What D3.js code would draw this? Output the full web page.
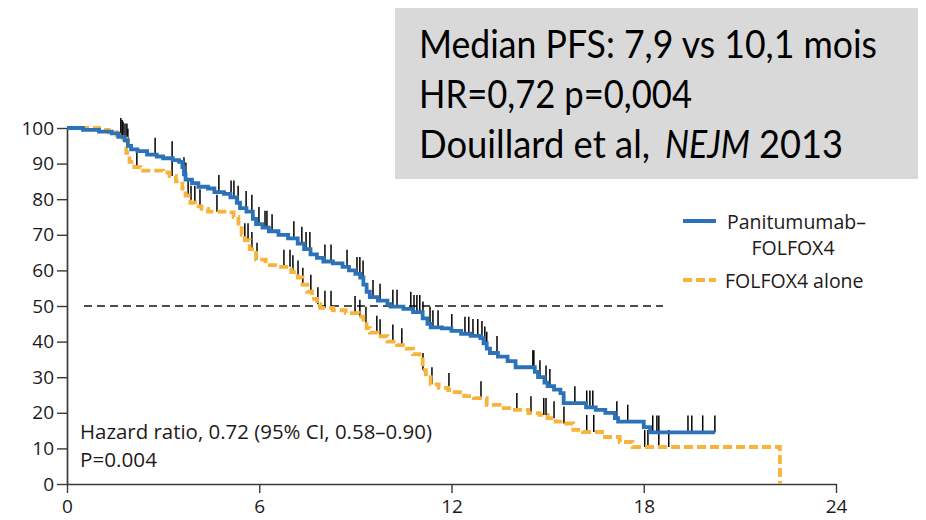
<!DOCTYPE html>
<html>
<head>
<meta charset="utf-8">
<script src="https://cdn.jsdelivr.net/npm/d3@7"></script>
<style>
  body { margin: 0; background: #fff; }
  svg { display: block; }
</style>
</head>
<body>
<div id="chart"></div>
<script>
'use strict';

// axis ticks
const month_ticks = [0, 6, 12, 18, 24];
const pct_ticks = [0, 10, 20, 30, 40, 50, 60, 70, 80, 90, 100];

// Kaplan-Meier steps [month, % progression-free]
const pan_steps = [
  [0, 100], [0.5, 99.5], [1.0, 99], [1.4, 98.5], [1.6, 97.5], [1.8, 96.5], [1.9, 95],
  [2.0, 94], [2.2, 93.5], [2.5, 92.5], [2.8, 92], [3.0, 91.5], [3.3, 91], [3.5, 90.5],
  [3.6, 89], [3.65, 87], [3.7, 85.5], [3.9, 84.5], [4.1, 83.5], [4.4, 83], [4.6, 82],
  [4.9, 81.5], [5.1, 80.5], [5.3, 79], [5.4, 77.5], [5.6, 76.5], [5.8, 74.5], [5.9, 73],
  [6.1, 72], [6.3, 71], [6.6, 70], [6.9, 69], [7.2, 67.5], [7.4, 66], [7.6, 64.5],
  [7.8, 63.5], [8.0, 62.5], [8.3, 62], [8.6, 61], [8.8, 60], [9.0, 59], [9.15, 58],
  [9.25, 56], [9.35, 54], [9.45, 52.5], [9.7, 51.5], [10.0, 50.5], [10.1, 49.8],
  [10.5, 49.2], [10.8, 48.3], [11.1, 46.5], [11.25, 45], [11.35, 44], [11.7, 43.7],
  [12.0, 43], [12.3, 42.2], [12.6, 41.6], [12.9, 41], [13.0, 39.5], [13.1, 38],
  [13.2, 36.8], [13.45, 35.8], [13.75, 34.5], [14.0, 32.8], [14.6, 31.5], [14.7, 30],
  [14.9, 28.5], [15.0, 27.5], [15.2, 26.5], [15.4, 25.5], [15.5, 22.7], [16.2, 21.5],
  [16.5, 20.8], [16.8, 20], [17.1, 18.5], [17.2, 17.5], [18.0, 16], [18.2, 14.5],
  [20.22, 14.5]
];

const fol_steps = [
  [0, 100], [1.0, 99.5], [1.3, 98.8], [1.55, 98], [1.75, 97], [1.85, 93], [1.95, 90.5],
  [2.1, 89], [2.3, 88], [3.0, 87.5], [3.2, 86.5], [3.4, 85], [3.6, 83], [3.7, 81],
  [3.85, 79], [4.0, 78], [4.2, 77.3], [4.4, 76.5], [5.0, 76.3], [5.2, 75], [5.35, 72.5],
  [5.45, 70], [5.55, 68.5], [5.7, 66], [5.9, 63], [6.2, 61.5], [6.6, 61], [7.0, 59.5],
  [7.2, 58], [7.35, 56], [7.5, 54], [7.65, 52], [7.8, 50.5], [7.9, 49.5], [8.3, 48.8],
  [8.7, 48], [9.1, 47], [9.25, 45], [9.35, 43.8], [9.45, 42.5], [9.7, 41.5], [10.0, 40],
  [10.3, 39], [10.6, 38], [10.8, 36.5], [11.0, 35], [11.1, 32], [11.2, 30], [11.35, 28],
  [11.6, 27], [11.9, 26.4], [12.1, 25.8], [12.4, 24.7], [12.7, 24.1], [13.1, 22.2],
  [13.5, 21.3], [13.8, 20.8], [14.4, 19.9], [14.75, 19.4], [15.0, 18.5], [15.25, 17.5],
  [15.5, 17], [15.8, 15.2], [16.1, 14.6], [16.7, 13.2], [17.25, 11.8], [17.65, 10.4],
  [22.25, 0]
];

// censored observations (months)
const pan_censor = [
  1.72, 1.81, 1.87, 1.90, 2.75, 3.28, 3.65, 3.71, 4.74, 5.12, 5.21, 5.34, 5.59, 5.77,
  5.99, 6.18, 6.24, 6.40, 7.08, 7.33, 7.46, 7.58, 8.05, 8.24, 8.74, 9.05, 9.14, 9.24,
  9.55, 9.77, 10.17, 10.30, 10.73, 10.83, 10.92, 11.01, 11.11, 11.33, 11.42, 11.58,
  12.01, 12.42, 12.54, 12.67, 12.82, 12.95, 13.04, 13.10, 13.42, 14.54, 14.57, 14.76,
  14.95, 15.07, 15.85, 16.22, 16.32, 16.41, 17.16, 17.50, 18.28, 18.41, 18.47, 19.38,
  19.50, 19.84, 20.22
];

const fol_censor = [
  1.68, 1.75, 2.18, 3.28, 3.78, 3.87, 3.99, 4.15, 4.68, 5.55, 5.65, 5.77, 5.93, 6.77,
  6.96, 7.05, 7.21, 7.36, 7.61, 7.83, 8.05, 8.24, 8.99, 9.14, 9.33, 9.67, 9.77, 10.17,
  10.45, 11.11, 11.39, 11.92, 12.92, 14.04, 14.48, 14.88, 14.95, 15.20, 15.51, 16.22,
  16.44, 18.03, 18.13, 18.47, 18.78
];

const median_span = [0.53, 18.6];
const median_value = 50;

const legend_names = ["Panitumumab–", "FOLFOX4", "FOLFOX4 alone"];
const hr_lines = ["Hazard ratio, 0.72 (95% CI, 0.58–0.90)", "P=0.004"];
const box_lines = ["Median PFS: 7,9 vs 10,1 mois", "HR=0,72 p=0,004"];
const box_cite = ["Douillard et al,", "NEJM", "2013"];

const width = 926;
const height = 520;
const blue = "#2b72b8";
const orange = "#f8b33a";
const ink = "#1e1a1b";
const nejm_font = "'Open Sans', 'DejaVu Sans', sans-serif";

var svg = d3.select("#chart").append("svg")
  .attr("width", width)
  .attr("height", height);

var x = d3.scaleLinear().domain([0, 24]).range([67, 836]);
var y = d3.scaleLinear().domain([0, 100]).range([484, 128]);

function value_at(steps, t)
{
  var i = d3.bisector(function(d) { return d[0]; }).right(steps, t) - 1;
  return steps[Math.max(0, i)][1];
}

/* axes */
var y_axis = svg.append("g")
  .attr("transform", `translate(${x(0)},0)`)
  .call(d3.axisLeft(y).tickValues(pct_ticks).tickSize(10).tickPadding(3).tickSizeOuter(0));

var x_axis = svg.append("g")
  .attr("transform", `translate(0,${y(0)})`)
  .call(d3.axisBottom(x).tickValues(month_ticks).tickSize(9).tickPadding(7).tickSizeOuter(0));

[y_axis, x_axis].forEach(function(g) {
  g.select(".domain").attr("stroke", "#3a3a3a").attr("stroke-width", 1.7);
  g.selectAll(".tick line").attr("stroke", "#3a3a3a").attr("stroke-width", 1.4);
  g.selectAll(".tick text")
    .attr("fill", ink)
    .attr("font-family", nejm_font)
    .attr("font-size", 19);
});

/* median reference */
svg.append("line")
  .attr("x1", x(median_span[0]))
  .attr("x2", x(median_span[1]))
  .attr("y1", y(median_value))
  .attr("y2", y(median_value))
  .attr("stroke", "#111")
  .attr("stroke-width", 1.7)
  .attr("stroke-dasharray", "8,5");

/* censor ticks */
function draw_censor(times, steps)
{
  svg.append("g")
    .selectAll("line")
    .data(times)
    .enter().append("line")
    .attr("x1", function(d) { return x(d); })
    .attr("x2", function(d) { return x(d); })
    .attr("y1", function(d) { return y(value_at(steps, d)); })
    .attr("y2", function(d) { return y(value_at(steps, d)) - 17; })
    .attr("stroke", "#000")
    .attr("stroke-width", 1.5);
}

draw_censor(fol_censor, fol_steps);
draw_censor(pan_censor, pan_steps);

/* curves */
var step_line = d3.line()
  .x(function(d) { return x(d[0]); })
  .y(function(d) { return y(d[1]); })
  .curve(d3.curveStepAfter);

svg.append("path")
  .datum(fol_steps)
  .attr("fill", "none")
  .attr("stroke", orange)
  .attr("stroke-width", 3.8)
  .attr("stroke-dasharray", "9,4")
  .attr("d", step_line);

svg.append("path")
  .datum(pan_steps)
  .attr("fill", "none")
  .attr("stroke", blue)
  .attr("stroke-width", 3.8)
  .attr("d", step_line);

/* legend */
var legend = svg.append("g")
  .attr("font-family", nejm_font)
  .attr("font-size", 19.5)
  .attr("fill", ink);

legend.append("line")
  .attr("x1", 683).attr("x2", 716).attr("y1", 221).attr("y2", 221)
  .attr("stroke", blue).attr("stroke-width", 3.8);
legend.append("text").attr("x", 727).attr("y", 229).text(legend_names[0]);
legend.append("text").attr("x", 793).attr("y", 255).attr("text-anchor", "middle").text(legend_names[1]);

legend.append("line")
  .attr("x1", 683).attr("x2", 716).attr("y1", 280).attr("y2", 280)
  .attr("stroke", orange).attr("stroke-width", 3.8).attr("stroke-dasharray", "9,4");
legend.append("text").attr("x", 725).attr("y", 288).text(legend_names[2]);

/* hazard ratio note */
svg.append("g")
  .attr("font-family", nejm_font)
  .attr("font-size", 19.5)
  .attr("fill", ink)
  .selectAll("text")
  .data(hr_lines)
  .enter().append("text")
  .attr("x", 80)
  .attr("y", function(d, i) { return 439 + i * 28; })
  .attr("textLength", function(d, i) { return i === 0 ? 352 : 77; })
  .attr("lengthAdjust", "spacingAndGlyphs")
  .text(function(d) { return d; });

/* summary box */
var box = svg.append("g");

box.append("rect")
  .attr("x", 395).attr("y", 8)
  .attr("width", 523).attr("height", 171)
  .attr("fill", "#d9d9d9");

var box_font = "Lato, 'Open Sans', sans-serif";

box.selectAll("text.box-line")
  .data(box_lines)
  .enter().append("text")
  .attr("class", "box-line")
  .attr("x", 419)
  .attr("y", function(d, i) { return 58 + i * 50; })
  .attr("font-family", box_font)
  .attr("font-size", 38)
  .attr("fill", "#000")
  .attr("textLength", function(d, i) { return i === 0 ? 458 : 273; })
  .attr("lengthAdjust", "spacingAndGlyphs")
  .text(function(d) { return d; });

// citation line: plain / italic / plain pieces, each placed on its own
var cite_x = [419, 665, 759];
var cite_w = [231, 85, 84];

box.selectAll("text.cite")
  .data(box_cite)
  .enter().append("text")
  .attr("class", "cite")
  .attr("x", function(d, i) { return cite_x[i]; })
  .attr("y", 158)
  .attr("font-family", box_font)
  .attr("font-size", 38)
  .attr("font-style", function(d, i) { return i === 1 ? "italic" : "normal"; })
  .attr("fill", "#000")
  .attr("textLength", function(d, i) { return cite_w[i]; })
  .attr("lengthAdjust", "spacingAndGlyphs")
  .text(function(d) { return d; });
</script>
</body>
</html>
